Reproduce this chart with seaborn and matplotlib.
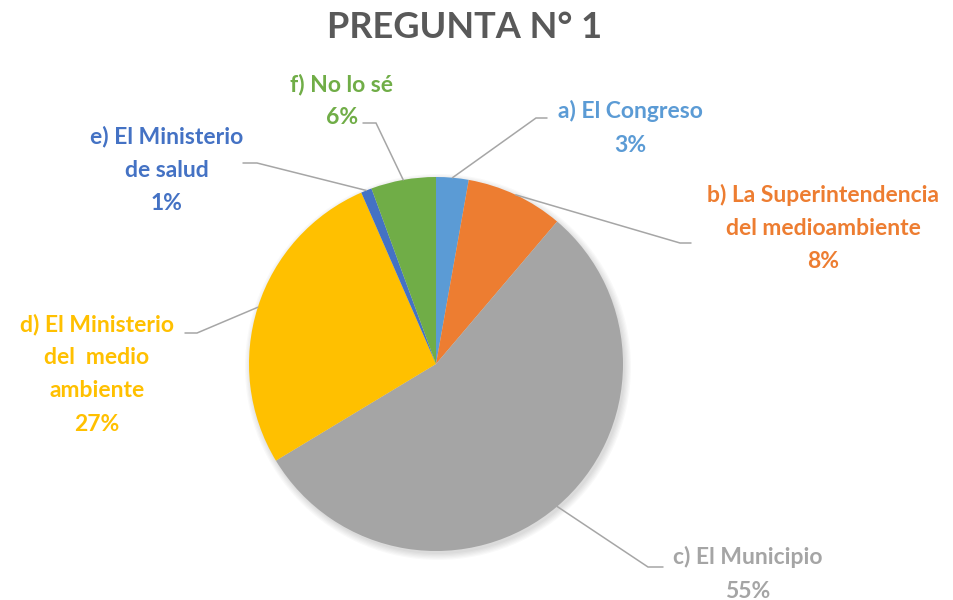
import matplotlib
matplotlib.use("Agg")
import matplotlib.pyplot as plt
import numpy as np
import seaborn as sns

# datos (respuestas por opción)
opciones = [
    "a) El Congreso",
    "b) La Superintendencia\ndel medioambiente",
    "c) El Municipio",
    "d) El Ministerio\ndel  medio\nambiente",
    "e) El Ministerio\nde salud",
    "f) No lo sé",
]
respuestas = [3, 9, 59, 29, 1, 6]
colores = ["#5B9BD5", "#ED7D31", "#A5A5A5", "#FFC000", "#4472C4", "#70AD47"]
titulo = "PREGUNTA N° 1"

# disposición de etiquetas (px, origen arriba-izquierda): texto, codo, fin de línea
pos_texto = [(630, 128), (823, 228), (748, 574), (97, 374), (167, 170), (342, 101)]
codos = [(536, 118), (680, 243), (648, 567), (197, 333), (257, 163), (376, 123)]
fin_linea = [547, 691, 663, 185, 243, 363]

W, H = 954, 600
CENTRO = (436, H - 364)
RADIO = 187


def main():
    sns.set_theme(style="white")
    plt.rcParams["font.family"] = ["Lato", "DejaVu Sans"]

    fig = plt.figure(figsize=(W / 100, H / 100), dpi=100)
    ax = fig.add_axes([0, 0, 1, 1])

    # sombra suave alrededor del pastel
    for k in range(6):
        sombra = plt.Circle((CENTRO[0] + 2, CENTRO[1] - 3), RADIO + k * 1.2,
                            color="black", alpha=0.025, lw=0, zorder=0)
        ax.add_patch(sombra)

    pal = sns.color_palette(colores)
    wedges, _ = ax.pie(respuestas, colors=pal, startangle=90, counterclock=False,
                       center=CENTRO, radius=RADIO, frame=True,
                       wedgeprops=dict(linewidth=0))

    total = sum(respuestas)
    for i, w in enumerate(wedges):
        ang = np.deg2rad((w.theta1 + w.theta2) / 2)
        x0 = CENTRO[0] + RADIO * np.cos(ang)
        y0 = CENTRO[1] + RADIO * np.sin(ang)
        cx, cy = codos[i]
        ax.plot([x0, cx, fin_linea[i]], [y0, H - cy, H - cy],
                color="#A6A6A6", lw=1.1, zorder=1, solid_joinstyle="miter")
        pct = round(100 * respuestas[i] / total)
        tx, ty = pos_texto[i]
        ax.text(tx, H - ty, f"{opciones[i]}\n{pct}%", ha="center", va="center",
                color=colores[i], fontsize=16.5, fontweight="bold", linespacing=1.72)

    ax.set_xlim(0, W)
    ax.set_ylim(0, H)
    ax.set_aspect("equal")
    ax.axis("off")

    fig.text(465 / W, 1 - 28 / H, titulo, ha="center", va="center",
             fontsize=26, fontweight="bold", color="#595959")

    fig.savefig("out.png", dpi=100)


if __name__ == "__main__":
    main()
